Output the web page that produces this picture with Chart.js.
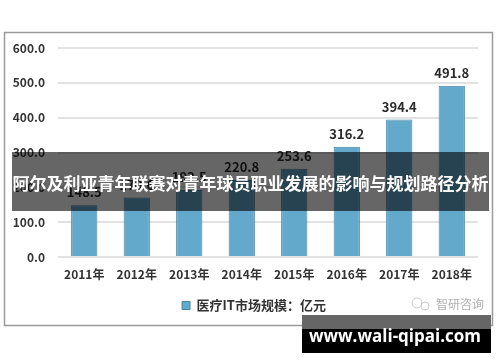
<!DOCTYPE html>
<html>
<head>
<meta charset="utf-8">
<script src="https://cdn.jsdelivr.net/npm/chart.js@4"></script>
<style>
  html, body { margin: 0; padding: 0; background: #fff; }
  canvas { display: block; }
</style>
</head>
<body>
<canvas id="chart" width="500" height="362"></canvas>
<script>
const years = ['2011年', '2012年', '2013年', '2014年', '2015年', '2016年', '2017年', '2018年'];
const marketSize = [148.5, 170.6, 192.5, 220.8, 253.6, 316.2, 394.4, 491.8];
const seriesName = '医疗IT市场规模：亿元';
const yTicks = [0, 100, 200, 300, 400, 500, 600];
const bannerTitle = '阿尔及利亚青年联赛对青年球员职业发展的影响与规划路径分析';
const sourceText = '智研咨询';
const siteText = 'www.wali-qipai.com';

const FONT = '"Noto Sans CJK SC", "Noto Sans", sans-serif';

const overlay = {
    id: 'overlay',
    afterLayout(chart) {
        // nudge the legend to where it sits in the original
        const lg = chart.legend;
        lg.left += 15;
        lg.right += 15;
        lg.top += 8;
        lg.bottom += 8;
    },
    beforeDraw(chart) {
        const ctx = chart.ctx;
        ctx.save();
        ctx.strokeStyle = '#9a9a9a';
        ctx.lineWidth = 1.5;
        ctx.strokeRect(4.5, 32.5, 488, 293);
        ctx.restore();
    },
    afterDatasetsDraw(chart) {
        const ctx = chart.ctx;
        const meta = chart.getDatasetMeta(0);
        ctx.save();
        ctx.font = 'bold 13px ' + FONT;
        ctx.fillStyle = '#2b2b2b';
        ctx.textAlign = 'center';
        ctx.textBaseline = 'middle';
        meta.data.forEach((bar, i) => {
            ctx.fillText(marketSize[i].toFixed(1), bar.x, bar.y - 13);
        });
        ctx.restore();
    },
    afterDraw(chart) {
        const ctx = chart.ctx;
        ctx.save();
        // source mark
        ctx.font = '12px ' + FONT;
        ctx.fillStyle = '#b0b0b0';
        ctx.textAlign = 'left';
        ctx.textBaseline = 'middle';
        ctx.fillText(sourceText, 436, 304);
        ctx.strokeStyle = '#c8c8c8';
        ctx.lineWidth = 1;
        ctx.beginPath();
        ctx.arc(417, 303, 5, 0, Math.PI * 2);
        ctx.stroke();
        ctx.beginPath();
        ctx.arc(425, 306, 4, 0, Math.PI * 2);
        ctx.stroke();

        // title banner
        ctx.fillStyle = 'rgba(0,0,0,0.6)';
        ctx.fillRect(12, 152, 477, 59);
        ctx.font = 'bold 17px ' + FONT;
        ctx.fillStyle = '#ffffff';
        ctx.textAlign = 'center';
        ctx.fillText(bannerTitle, 250.5, 184);

        // site box
        ctx.fillStyle = '#666666';
        ctx.fillRect(302, 315, 189, 14);
        ctx.fillStyle = '#000000';
        ctx.fillRect(302, 329, 189, 24);
        ctx.font = 'bold 17px "Open Sans", "DejaVu Sans", sans-serif';
        ctx.fillStyle = '#ffffff';
        ctx.fillText(siteText, 395, 337);
        ctx.restore();
    }
};

new Chart(document.getElementById('chart'), {
    type: 'bar',
    data: {
        labels: years,
        datasets: [{
            label: seriesName,
            data: marketSize,
            backgroundColor: '#62a9cb',
            borderColor: '#4585a4',
            borderWidth: 1,
            barPercentage: 0.5,
            categoryPercentage: 1.0
        }]
    },
    options: {
        responsive: false,
        animation: false,
        layout: { padding: { left: 0, right: 22, top: 48, bottom: 48 } },
        plugins: {
            legend: {
                position: 'bottom',
                labels: {
                    boxWidth: 8,
                    boxHeight: 8,
                    padding: 8,
                    color: '#333',
                    font: { family: FONT, size: 13, weight: 'bold' }
                }
            },
            tooltip: { enabled: false }
        },
        scales: {
            x: {
                grid: { display: false },
                border: { display: false },
                ticks: {
                    color: '#333',
                    padding: 2,
                    font: { family: FONT, size: 12, weight: 'bold' }
                },
                afterFit(s) { s.height = 26; }
            },
            y: {
                min: 0,
                max: 600,
                afterBuildTicks(s) { s.ticks = yTicks.map(v => ({ value: v })); },
                grid: { color: '#e2e2e2', lineWidth: 2, drawTicks: false },
                border: { display: false },
                ticks: {
                    color: '#333',
                    padding: 13,
                    font: { family: FONT, size: 12, weight: 'bold' },
                    callback: v => Number(v).toFixed(1)
                },
                afterFit(s) { s.width = 58; }
            }
        }
    },
    plugins: [overlay]
});
</script>
</body>
</html>
